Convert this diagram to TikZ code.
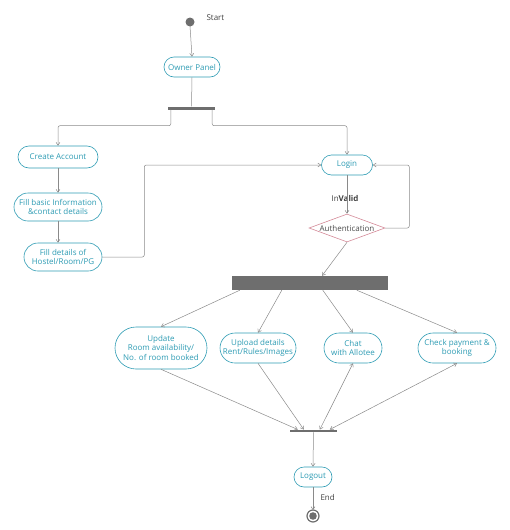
\documentclass[tikz,border=0pt]{standalone}
\usepackage{fontspec}
\setmainfont{Open Sans}
\usetikzlibrary{shapes.misc,shapes.geometric,arrows.meta}
\definecolor{actcol}{HTML}{2E9CB4}
\definecolor{decol}{HTML}{D48A98}
\definecolor{linecol}{HTML}{8A8A8A}
\definecolor{barcol}{HTML}{6E6E6E}
\tikzset{
    activity/.style={rounded rectangle, draw=actcol, text=actcol, fill=white, semithick,
        font=\fontsize{8}{9.5}\selectfont, align=center, inner xsep=2pt, inner ysep=2pt},
    decision/.style={diamond, draw=decol, text=black!70, fill=white, semithick, aspect=2.8,
        inner sep=0pt, font=\fontsize{8}{9.5}\selectfont},
    syncbar/.style={rectangle, fill=barcol, inner sep=0pt},
    flow/.style={draw=linecol, line width=0.5pt, -{Straight Barb[length=3pt,width=4pt]}},
    lbl/.style={font=\fontsize{8}{9.5}\selectfont, text=black!75}
}
\begin{document}
\begin{tikzpicture}[x=1pt,y=-1pt]
    \useasboundingbox (0,0) rectangle (510,530);
    % start and owner panel
    \fill [barcol] (190,22) circle (4.5);
    \coordinate (start) at (190,26);
    \node [lbl, anchor=west] (startlbl) at (203,18) {Start};
    \node [activity, minimum width=60pt, minimum height=20pt] (owner) at (192,67) {Owner Panel};
    \node [syncbar, minimum width=47pt, minimum height=3pt] (fork) at (191.5,108) {};
    % left branch
    \node [activity, minimum width=84pt, minimum height=22pt] (create) at (58,157) {Create Account};
    \node [activity, minimum width=92pt, minimum height=28pt] (basic) at (58,207) {Fill basic Information\\\&contact details};
    \node [activity, minimum width=82pt, minimum height=28pt] (hostel) at (63,257) {Fill details of\\Hostel/Room/PG};
    % login and authentication
    \node [activity, minimum width=55pt, minimum height=20pt] (login) at (347,165) {Login};
    \node [decision, minimum width=76pt, minimum height=28pt] (auth) at (347,228) {Authentication};
    \node [lbl] (invalid) at (345,198) {In\textbf{Valid}};
    \node [syncbar, minimum width=156pt, minimum height=14pt] (split) at (310,283) {};
    % owner actions
    \node [activity, minimum width=96pt, minimum height=42pt] (update) at (161,348) {Update\\Room availability/\\No. of room booked};
    \node [activity, minimum width=80pt, minimum height=30pt] (upload) at (258,348) {Upload details\\Rent/Rules/Images};
    \node [activity, minimum width=62pt, minimum height=30pt] (chat) at (353,348) {Chat\\with Allotee};
    \node [activity, minimum width=82pt, minimum height=30pt] (payment) at (457,348) {Check payment \&\\booking};
    \node [syncbar, minimum width=47pt, minimum height=2.5pt] (join) at (313.5,431) {};
    \node [activity, minimum width=42pt, minimum height=20pt] (logout) at (313,477) {Logout};
    \draw [barcol, line width=1.2pt] (313,516) circle (6);
    \fill [barcol] (313,516) circle (3.8);
    \coordinate (finish) at (313,510);
    \node [lbl, anchor=west] (endlbl) at (317,497) {End};
    % connectors
    \draw [flow] (start) -- (owner.north);
    \draw [flow, -] (owner.south) -- (fork.north);
    \draw [flow, rounded corners=2pt] ([xshift=3pt]fork.south west) -- ++(0,16) -| (create.north);
    \draw [flow, rounded corners=2pt] ([xshift=-3pt]fork.south east) -- ++(0,16) -| (login.north);
    \draw [flow] (create.south) -- (basic.north);
    \draw [flow] (basic.south) -- (hostel.north -| basic.south);
    \draw [flow, rounded corners=2pt] (hostel.east) -- ++(42,0) |- (login.west);
    \draw [flow] (login.south) -- (auth.north);
    \draw [flow, rounded corners=2pt] (auth.east) -- ++(24,0) |- (login.east);
    \draw [flow] (auth.south) -- ([xshift=12pt]split.north);
    \draw [flow] ([xshift=8pt]split.south west) -- (update.north);
    \draw [flow] ([xshift=50pt]split.south west) -- (upload.north);
    \draw [flow] ([xshift=91pt]split.south west) -- (chat.north);
    \draw [flow] ([xshift=125pt]split.south west) -- (payment.north);
    \draw [flow] (update.south) -- ([xshift=8pt]join.north west);
    \draw [flow] (upload.south) -- ([xshift=14pt]join.north west);
    \draw [flow, {Straight Barb[length=3pt,width=4pt]}-{Straight Barb[length=3pt,width=4pt]}] ([xshift=30pt]join.north west) -- (chat.south);
    \draw [flow, {Straight Barb[length=3pt,width=4pt]}-{Straight Barb[length=3pt,width=4pt]}] ([xshift=40pt]join.north west) -- (payment.south);
    \draw [flow] (join.south) -- (logout.north);
    \draw [flow] (logout.south) -- (finish);
\end{tikzpicture}
\end{document}
